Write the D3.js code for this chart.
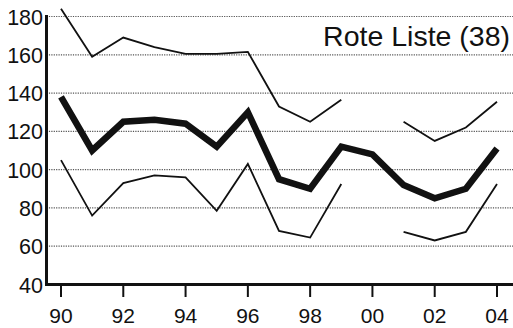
<!DOCTYPE html>
<html>
<head>
<meta charset="utf-8">
<script src="https://cdn.jsdelivr.net/npm/d3@7.9.0/dist/d3.min.js"></script>
<style>
  body { margin: 0; background: #fff; }
  svg { display: block; font-family: "Liberation Sans", Arial, sans-serif; }
</style>
</head>
<body>
<svg id="chart" width="513" height="328"></svg>
<script>
const years = d3.range(1990, 2005);
const mean  = [138, 110, 125, 126, 124, 112, 130, 95, 90, 112, 108, 92, 85, 90, 111];
const upper = [184, 159, 169, 164, 160.5, 160.5, 161.5, 133, 125, 136.5, null, 125, 115, 122, 135.5];
const lower = [105, 76, 93, 97, 96, 78.5, 103, 68, 64.5, 92.5, null, 67.5, 63, 67.5, 92.5];
const yTicks = [40, 60, 80, 100, 120, 140, 160, 180];
const xTicks = [1990, 1992, 1994, 1996, 1998, 2000, 2002, 2004];
const title = "Rote Liste (38)";

const svg = d3.select("#chart");
const W = 513, H = 328;
const axisX = 46.5, axisY = 284.5;

const x = d3.scaleLinear().domain([1990, 2004]).range([61, 497]);
const y = d3.scaleLinear().domain([40, 180]).range([axisY, 16.5]);

// dotted grid
svg.append("g")
  .selectAll("line")
  .data(yTicks.filter(d => d > 40))
  .enter().append("line")
  .attr("x1", axisX).attr("x2", W)
  .attr("y1", d => y(d)).attr("y2", d => y(d))
  .attr("stroke", "#555")
  .attr("stroke-width", 1.2)
  .attr("stroke-dasharray", "1.2 1.2");

// y axis labels
svg.append("g")
  .selectAll("text")
  .data(yTicks)
  .enter().append("text")
  .attr("x", 43)
  .attr("y", d => y(d) + 8)
  .attr("text-anchor", "end")
  .attr("font-size", "21.5px")
  .attr("fill", "#111")
  .text(d => d);

// x axis ticks + labels
const xg = svg.append("g");
xg.selectAll("line")
  .data(xTicks)
  .enter().append("line")
  .attr("x1", d => x(d)).attr("x2", d => x(d))
  .attr("y1", axisY).attr("y2", 297)
  .attr("stroke", "#111")
  .attr("stroke-width", 2);
xg.selectAll("text")
  .data(xTicks)
  .enter().append("text")
  .attr("x", d => x(d))
  .attr("y", 323)
  .attr("text-anchor", "middle")
  .attr("font-size", "21px")
  .attr("fill", "#111")
  .text(d => String(d).slice(2));

// axes lines
svg.append("line")
  .attr("x1", axisX).attr("x2", axisX)
  .attr("y1", 15).attr("y2", axisY + 1.5)
  .attr("stroke", "#111").attr("stroke-width", 3);
svg.append("line")
  .attr("x1", axisX - 1.5).attr("x2", W)
  .attr("y1", axisY).attr("y2", axisY)
  .attr("stroke", "#111").attr("stroke-width", 3);

const line = d3.line()
  .defined(d => d[1] != null)
  .x(d => x(d[0]))
  .y(d => y(d[1]));

const series = [
  { values: upper, width: 1.8 },
  { values: lower, width: 1.8 },
  { values: mean, width: 6.5 }
];

series.forEach(s => {
  svg.append("path")
    .datum(years.map((yr, i) => [yr, s.values[i]]))
    .attr("fill", "none")
    .attr("stroke", "#111")
    .attr("stroke-width", s.width)
    .attr("stroke-linejoin", "miter")
    .attr("d", line);
});

// title
svg.append("text")
  .attr("x", 510)
  .attr("y", 46)
  .attr("text-anchor", "end")
  .attr("font-size", "28.5px")
  .attr("fill", "#111")
  .text(title);
</script>
</body>
</html>
